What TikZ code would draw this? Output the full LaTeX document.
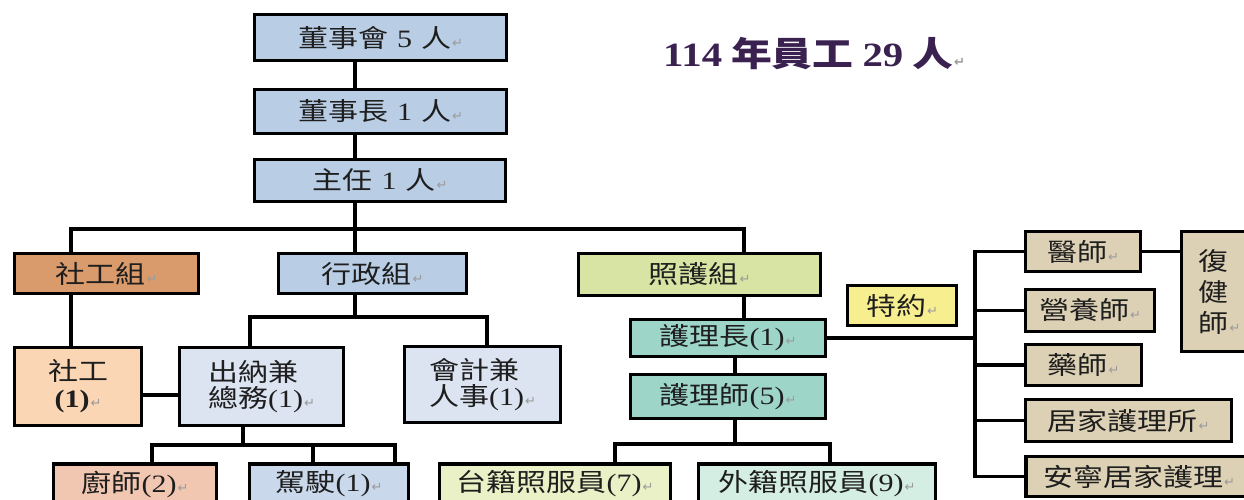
\documentclass[tikz,border=0pt]{standalone}
\usepackage{fontspec}
\setmainfont{Liberation Serif}[FakeStretch=1.2]
\newfontfamily\zhfont{Noto Sans CJK TC}[FakeStretch=1.2]
\newfontfamily\symfont{DejaVu Sans}
\newcommand\zh[1]{{\zhfont #1}}
\definecolor{retgray}{HTML}{9A9A9A}
\definecolor{txt}{HTML}{1E1E1E}
\definecolor{ttlcol}{HTML}{3A2150}
\definecolor{cBlue}{HTML}{B9CDE5}
\definecolor{cBrown}{HTML}{D99A6C}
\definecolor{cGreenY}{HTML}{D7E4A3}
\definecolor{cTeal}{HTML}{9DD6C8}
\definecolor{cPeach}{HTML}{FBD6B5}
\definecolor{cLav}{HTML}{DCE3F1}
\definecolor{cSalmon}{HTML}{F1C7B1}
\definecolor{cBlueB}{HTML}{C9D8EB}
\definecolor{cLime}{HTML}{EBF1C6}
\definecolor{cMint}{HTML}{D5EEE3}
\definecolor{cYellow}{HTML}{F7EE8F}
\definecolor{cTan}{HTML}{DDD1B5}
\newcommand\ret{\hspace{1pt}{\symfont\fontsize{13}{13}\selectfont\textcolor{retgray}{↵}}}
\newcommand\gapsp{\hspace{9pt}}
\newcommand\boxfont{\fontsize{25}{27}\selectfont}
\pgfdeclarelayer{back}
\pgfdeclarelayer{bg}
\pgfsetlayers{back,bg,main}
\tikzset{
  box/.style={draw=black, line width=3.2pt, inner sep=0pt, font=\boxfont, text=txt, align=center},
  conn/.style={draw=black, line width=3.2pt, line cap=rect, line join=miter},
}
\begin{document}
\begin{tikzpicture}[x=1pt,y=-1pt]
\useasboundingbox (0,0) rectangle (1244,500);
\begin{pgfonlayer}{back}
\fill[white] (0,0) rectangle (1244,500);
\end{pgfonlayer}

% title
\node[anchor=west, font=\fontsize{34}{36}\selectfont\bfseries, text=ttlcol, inner sep=0pt] (ttl) at (663,54) {114\gapsp\zh{年員工}\gapsp29\gapsp\zh{人}\ret};

% top chain
\node[box, fill=cBlue, minimum width=252, minimum height=46] (bod) at (380.5,37.5) {\zh{董事會}\gapsp5\gapsp\zh{人}\ret};
\node[box, fill=cBlue, minimum width=252, minimum height=44] (chair) at (380.5,111.5) {\zh{董事長}\gapsp1\gapsp\zh{人}\ret};
\node[box, fill=cBlue, minimum width=251, minimum height=42] (dir) at (380,180.5) {\zh{主任}\gapsp1\gapsp\zh{人}\ret};

% groups
\node[box, fill=cBrown, minimum width=184, minimum height=40] (sw) at (106.5,273.5) {\zh{社工組}\ret};
\node[box, fill=cBlue, minimum width=188, minimum height=40] (adm) at (372.5,273.5) {\zh{行政組}\ret};
\node[box, fill=cGreenY, minimum width=242, minimum height=42] (care) at (699.5,274.5) {\zh{照護組}\ret};

% nursing
\node[box, fill=cTeal, minimum width=195, minimum height=37] (hn) at (728,338) {\zh{護理長}(1)\ret};
\node[box, fill=cTeal, minimum width=195, minimum height=44] (rn) at (728,396.5) {\zh{護理師}(5)\ret};

% second level left
\node[box, fill=cPeach, minimum width=127, minimum height=78, font=\fontsize{25}{27}\selectfont] (swk) at (78,386.5) {\zh{社工}\\\textbf{(1)}\ret};
\node[box, fill=cLav, minimum width=164, minimum height=78, align=left, font=\fontsize{25}{26}\selectfont] (cash) at (261.5,386.5) {\zh{出納兼}\\\zh{總務}(1)\ret};
\node[box, fill=cLav, minimum width=156, minimum height=76, align=left, font=\fontsize{25}{26}\selectfont] (acct) at (482.5,384.5) {\zh{會計兼}\\\zh{人事}(1)\ret};

% bottom row
\node[box, fill=cSalmon, minimum width=163, minimum height=40] (cook) at (135,484) {\zh{廚師}(2)\ret};
\node[box, fill=cBlueB, minimum width=159, minimum height=40] (drv) at (329,484) {\zh{駕駛}(1)\ret};
\node[box, fill=cLime, minimum width=231, minimum height=40] (tw) at (555,484) {\zh{台籍照服員}(7)\ret};
\node[box, fill=cMint, minimum width=237, minimum height=40] (fw) at (817,484) {\zh{外籍照服員}(9)\ret};

% contracted
\node[box, fill=cYellow, minimum width=109, minimum height=40] (tey) at (902,305.5) {\zh{特約}\ret};
\node[box, fill=cTan, minimum width=115, minimum height=40] (doc) at (1083,251.5) {\zh{醫師}\ret};
\node[box, fill=cTan, minimum width=129, minimum height=42] (diet) at (1090,310.5) {\zh{營養師}\ret};
\node[box, fill=cTan, minimum width=116, minimum height=41] (pharm) at (1083.5,365) {\zh{藥師}\ret};
\node[box, fill=cTan, minimum width=206, minimum height=42] (home) at (1128.5,420.5) {\zh{居家護理所}\ret};
\node[box, fill=cTan, minimum width=226, minimum height=40] (hosp) at (1139,476.5) {\zh{安寧居家護理}\ret};
\node[box, fill=cTan, minimum width=76, minimum height=120, align=left, font=\fontsize{25}{31}\selectfont] (rehab) at (1219.5,291.5) {\zh{復}\\\zh{健}\\\zh{師}\ret};

% helper coordinates
\coordinate (b1) at (0,229);
\coordinate (b2) at (0,317);
\coordinate (b3) at (0,444);
\coordinate (b4) at (0,445);
\coordinate (ylink) at (0,395);
\coordinate (xsw) at (71,0);
\coordinate (xadm) at (355,0);
\coordinate (xcare) at (744,0);
\coordinate (xrn) at (735,0);
\coordinate (xtw) at (615,0);
\coordinate (xfw) at (830,0);
\coordinate (xcash) at (250,0);
\coordinate (xacct) at (487,0);
\coordinate (xcsh2) at (243,0);
\coordinate (xck) at (152,0);
\coordinate (xdv1) at (313,0);
\coordinate (xdv2) at (395,0);
\coordinate (xt) at (975,0);

\begin{pgfonlayer}{bg}
\draw[conn] (bod.south -| xadm) -- (chair.north -| xadm);
\draw[conn] (chair.south -| xadm) -- (dir.north -| xadm);
\draw[conn] (dir.south -| xadm) -- (adm.north -| xadm);
\draw[conn] (sw.north -| xsw) -- (b1 -| xsw) -- (b1 -| xcare) -- (care.north -| xcare);
\draw[conn] (care.south -| xcare) -- (hn.north -| xcare);
\draw[conn] (hn.south -| xrn) -- (rn.north -| xrn);
\draw[conn] (rn.south -| xrn) -- (b3 -| xrn);
\draw[conn] (tw.north -| xtw) -- (b3 -| xtw) -- (b3 -| xfw) -- (fw.north -| xfw);
\draw[conn] (adm.south -| xadm) -- (b2 -| xadm);
\draw[conn] (cash.north -| xcash) -- (b2 -| xcash) -- (b2 -| xacct) -- (acct.north -| xacct);
\draw[conn] (sw.south -| xsw) -- (swk.north -| xsw);
\draw[conn] (swk.east |- ylink) -- (cash.west |- ylink);
\draw[conn] (cash.south -| xcsh2) -- (b4 -| xcsh2);
\draw[conn] (cook.north -| xck) -- (b4 -| xck) -- (b4 -| xdv2) -- (drv.north -| xdv2);
\draw[conn] (b4 -| xdv1) -- (drv.north -| xdv1);
\draw[conn] (hn.east) -- (hn.east -| xt);
\draw[conn] (doc.west) -- (doc.west -| xt) -- (hosp.west -| xt) -- (hosp.west);
\foreach \n in {diet,pharm,home} {\draw[conn] (\n.west -| xt) -- (\n.west);}
\draw[conn] (doc.east) -- (doc.east -| rehab.west);
\end{pgfonlayer}
\end{tikzpicture}
\end{document}
